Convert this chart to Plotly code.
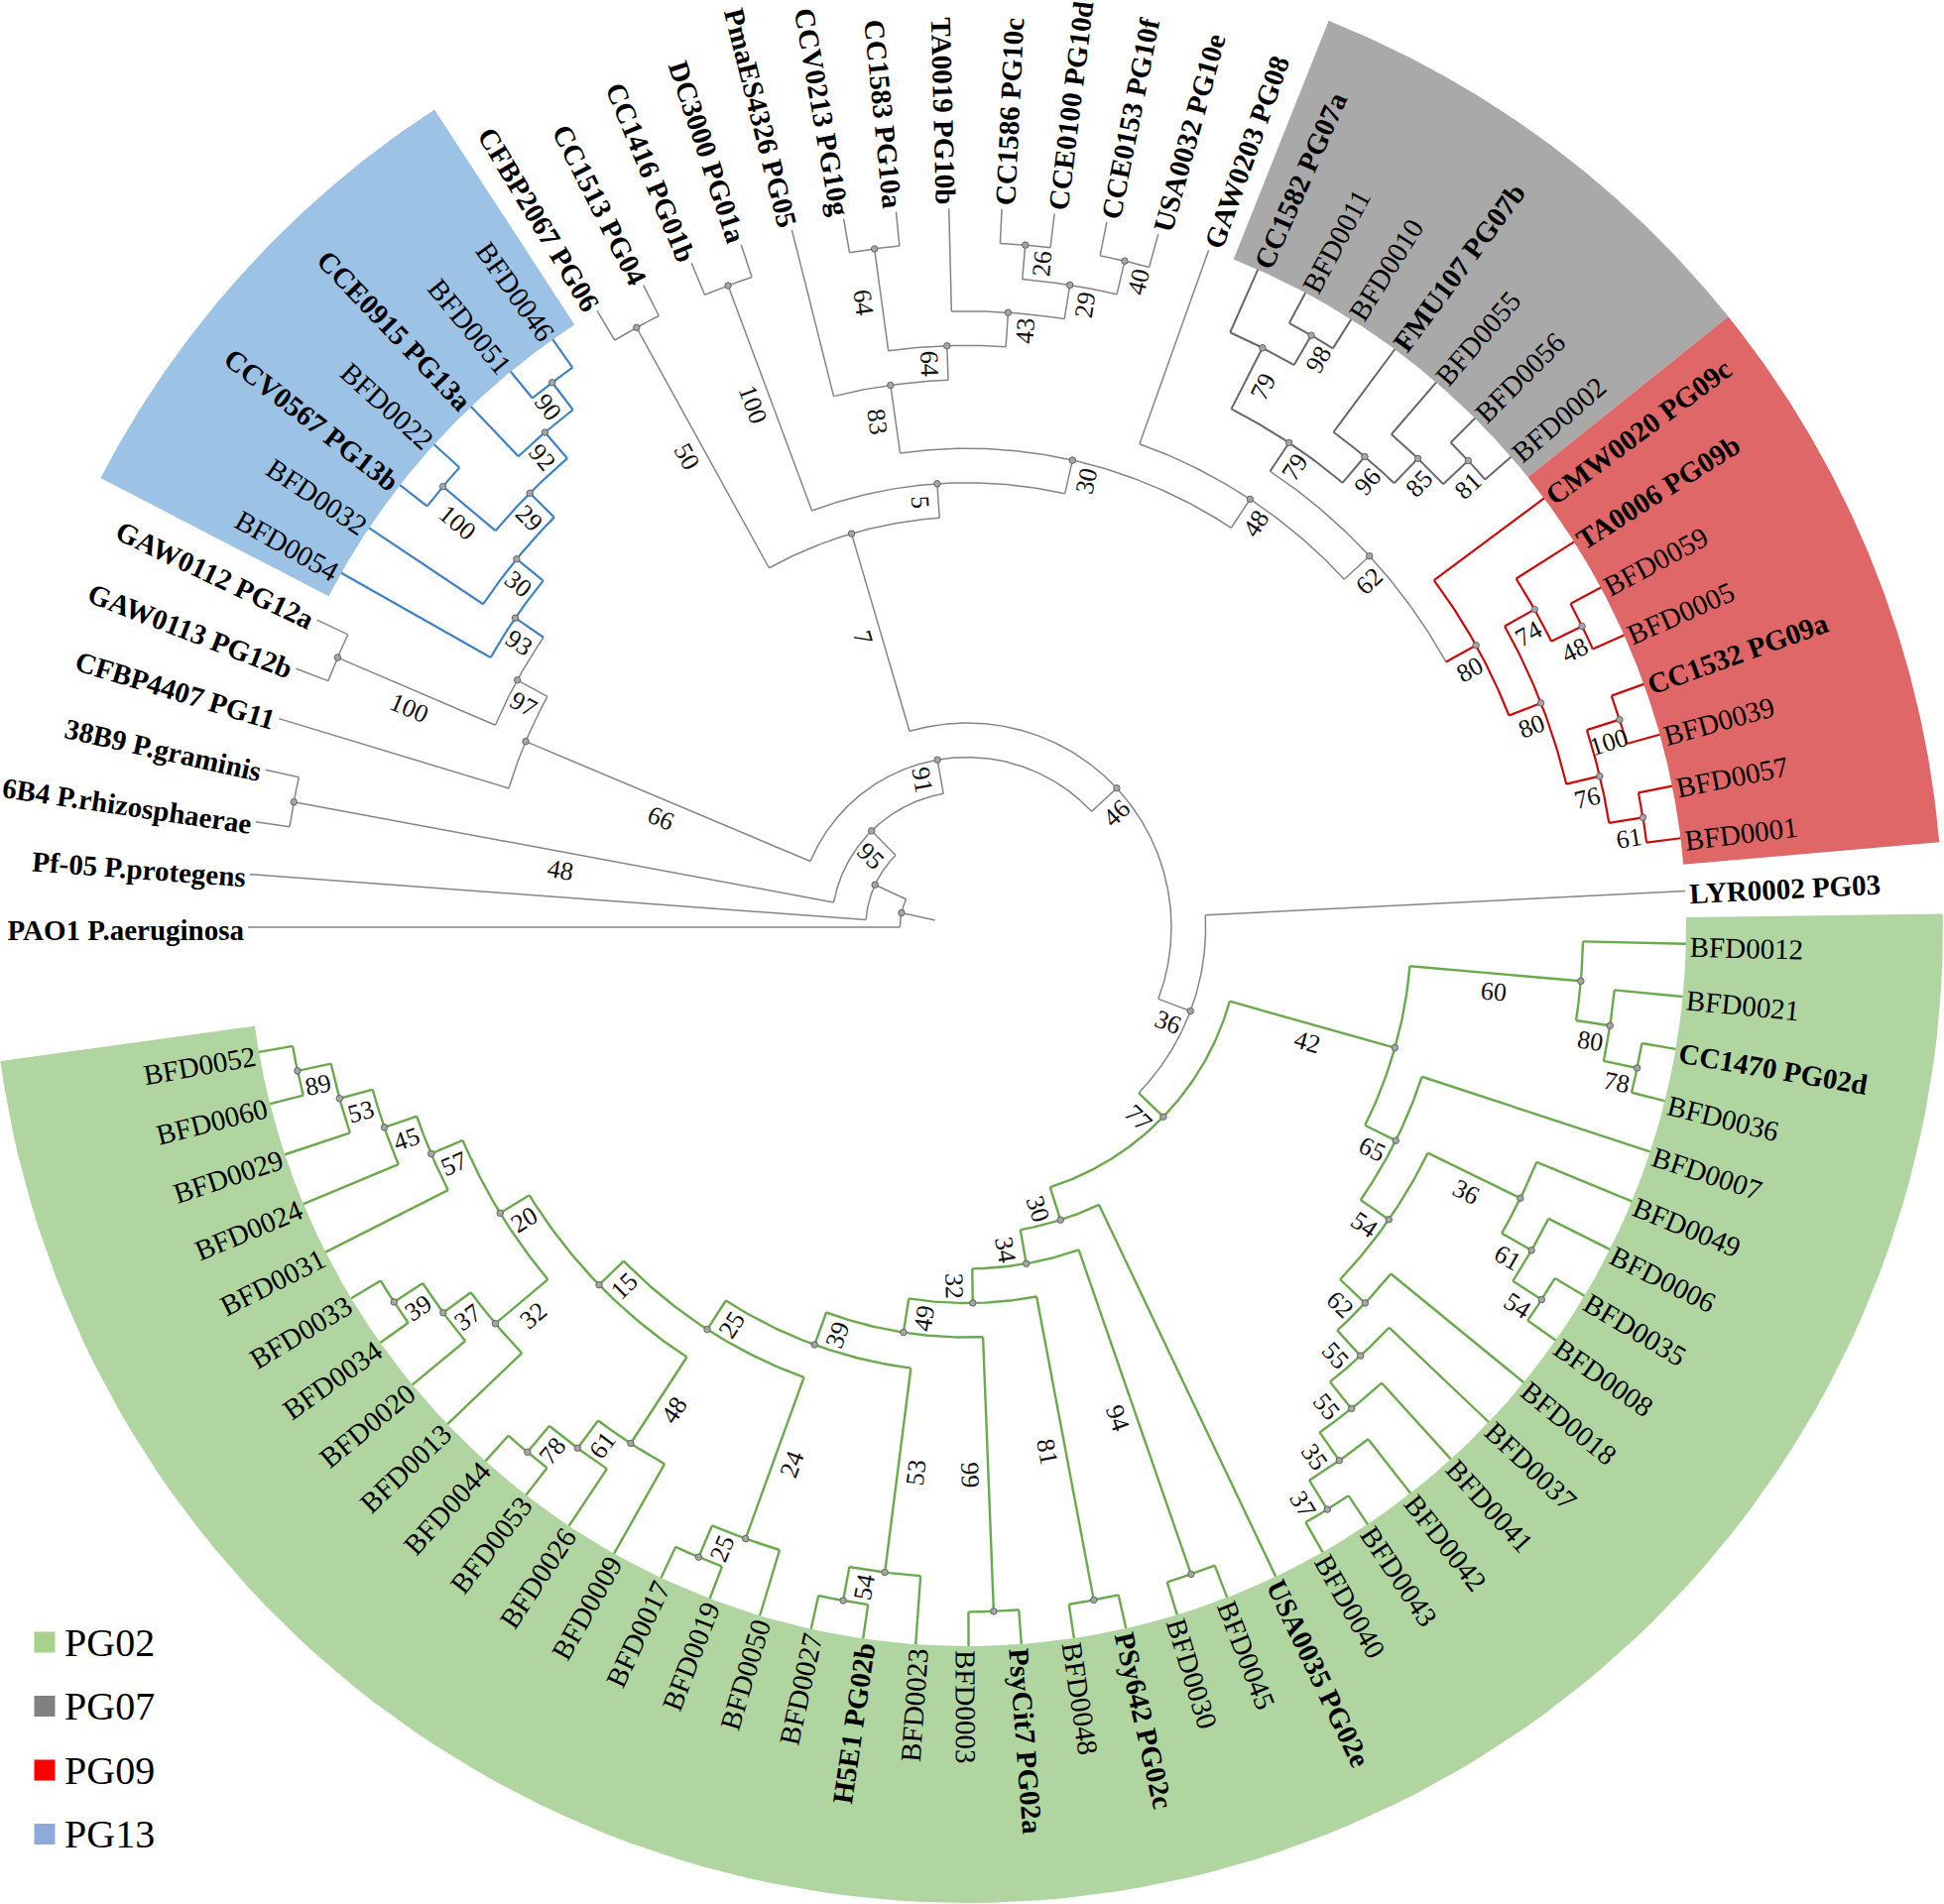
import math
import plotly.graph_objects as go

# ------------------------------------------------------------------ data
# Tree topology (clockwise leaf order) with bootstrap supports on internal nodes
PG13_CLADE = "(BFD0054,(BFD0032,((CCV0567 PG13b,BFD0022)100,(CCE0915 PG13a,(BFD0051,BFD0046)90)92)29)30)93"
PG07_CLADE = "((CC1582 PG07a,(BFD0011,BFD0010)98)79,(FMU107 PG07b,(BFD0055,(BFD0056,BFD0002)81)85)96)79"
PG09_CLADE = "(CMW0020 PG09c,((TA0006 PG09b,(BFD0059,BFD0005)48)74,((CC1532 PG09a,BFD0039)100,(BFD0057,BFD0001)61)76)80)80"
TOP_CLADE = ("((CFBP2067 PG06,CC1513 PG04)50,((CC1416 PG01b,DC3000 PG01a)100,((PmaES4326 PG05,"
             "((CCV0213 PG10g,CC1583 PG10a)64,(TA0019 PG10b,((CC1586 PG10c,CCE0100 PG10d)26,"
             "(CCE0153 PG10f,USA0032 PG10e)40)29)43)64)83,(GAW0203 PG08,(<PG07>,<PG09>)62)48)30)5)7")
PG02_A = ("((BFD0012,(BFD0021,(CC1470 PG02d,BFD0036)78)80)60,(BFD0007,((BFD0049,(BFD0006,"
          "(BFD0035,BFD0008)54)61)36,(BFD0018,(BFD0037,(BFD0041,(BFD0042,(BFD0043,BFD0040)37)35)55)55)62)54)65)42")
PG02_B = ("(USA0035 PG02e,((BFD0045,BFD0030)94,((PSy642 PG02c,BFD0048)81,((PsyCit7 PG02a,BFD0003)99,"
          "((BFD0023,(H5E1 PG02b,BFD0027)54)53,((BFD0050,(BFD0019,BFD0017)25)24,((BFD0009,(BFD0026,"
          "(BFD0053,BFD0044)78)61)48,((BFD0013,(BFD0020,(BFD0034,BFD0033)39)37)32,(BFD0031,(BFD0024,"
          "(BFD0029,(BFD0060,BFD0052)89)53)45)57)20)15)25)39)49)32)34)30")
BACKBONE = ("(PAO1 P.aeruginosa,(Pf-05 P.protegens,((6B4 P.rhizosphaerae,38B9 P.graminis)48,"
            "((CFBP4407 PG11,((GAW0113 PG12b,GAW0112 PG12a)100,<PG13>)97)66,"
            "(<TOP>,(LYR0002 PG03,(<PG02A>,<PG02B>)77)36)46)91)95))")

# highlighted clades: name, first leaf, last leaf
CLADE_NAMES = ["PG13", "PG07", "PG09", "PG02"]
CLADE_FIRST = ["BFD0054", "CC1582 PG07a", "CMW0020 PG09c", "BFD0012"]
CLADE_LAST = ["BFD0046", "BFD0002", "BFD0001", "BFD0052"]

LEGEND_LABELS = ["PG02", "PG07", "PG09", "PG13"]

# ------------------------------------------------------------------ styles / layout constants
W, H = 1960, 1920
CX, CY = 975, 935
R_TIP = 725.0
STEP = 34.6
R_OUT = 984.0
ARC = 350.0
START = 180.0

WEDGE_COL = {"PG13": "#9cc2e5", "PG07": "#a9a9a9", "PG09": "#e06767", "PG02": "#b1d5a0"}
LINE_STYLE = {None: ("#858585", 1.5), "PG13": ("#3f82c8", 2.2), "PG07": ("#686868", 2.0),
              "PG09": ("#cc0a0a", 2.2), "PG02": ("#6aaa4c", 2.4)}
LEGEND_COL = {"PG02": "#a9d18e", "PG07": "#808080", "PG09": "#ff0000", "PG13": "#8eaadb"}

# ------------------------------------------------------------------ build tree
newick = (BACKBONE.replace("<PG13>", PG13_CLADE).replace("<TOP>", TOP_CLADE)
          .replace("<PG02A>", PG02_A).replace("<PG02B>", PG02_B))
newick = newick.replace("<PG07>", PG07_CLADE).replace("<PG09>", PG09_CLADE)


def parse_newick(s):
    pos = 0

    def node():
        nonlocal pos
        if s[pos] == "(":
            pos += 1
            kids = [node()]
            while s[pos] == ",":
                pos += 1
                kids.append(node())
            assert s[pos] == ")"
            pos += 1
            st = pos
            while pos < len(s) and s[pos] not in ",)":
                pos += 1
            return {"kids": kids, "support": s[st:pos].strip()}
        st = pos
        while s[pos] not in ",)":
            pos += 1
        return {"kids": [], "name": s[st:pos].strip()}

    return node()


root = parse_newick(newick)
leaves = []
internals = []


def assign(n):
    if not n["kids"]:
        n["idx"] = len(leaves)
        n["lo"] = n["hi"] = n["idx"]
        n["level"] = 0
        leaves.append(n)
    else:
        for k in n["kids"]:
            assign(k)
        n["level"] = 1 + max(k["level"] for k in n["kids"])
        n["lo"] = n["kids"][0]["lo"]
        n["hi"] = n["kids"][-1]["hi"]
        internals.append(n)


assign(root)
NL = len(leaves)
DTH = ARC / (NL - 1)


def set_geom(n):
    for k in n["kids"]:
        set_geom(k)
    if n["kids"]:
        n["th"] = (n["kids"][0]["th"] + n["kids"][-1]["th"]) / 2.0
    else:
        n["th"] = START - n["idx"] * DTH
    n["r"] = R_TIP - STEP * n["level"]


set_geom(root)
leaf_by_name = {l["name"]: l for l in leaves}


def set_clade(n, c):
    n["clade"] = c
    for k in n["kids"]:
        set_clade(k, c)


set_clade(root, None)
clade_ranges = {}
for nm, a, b in zip(CLADE_NAMES, CLADE_FIRST, CLADE_LAST):
    lo, hi = leaf_by_name[a]["idx"], leaf_by_name[b]["idx"]
    clade_ranges[nm] = (lo, hi)
    for n in internals:
        if n["lo"] == lo and n["hi"] == hi:
            set_clade(n, nm)


def P(r, th):
    t = math.radians(th)
    return r * math.cos(t), r * math.sin(t)


# ------------------------------------------------------------------ figure
fig = go.Figure()

# background wedges
for nm in CLADE_NAMES:
    lo, hi = clade_ranges[nm]
    a0 = START - lo * DTH + DTH / 2
    a1 = START - hi * DTH - DTH / 2
    nseg = 120
    xs, ys = [], []
    for i in range(nseg + 1):
        x, y = P(R_TIP, a0 + (a1 - a0) * i / nseg)
        xs.append(x); ys.append(y)
    for i in range(nseg + 1):
        x, y = P(R_OUT, a1 + (a0 - a1) * i / nseg)
        xs.append(x); ys.append(y)
    xs.append(xs[0]); ys.append(ys[0])
    fig.add_trace(go.Scatter(x=xs, y=ys, mode="lines", fill="toself", fillcolor=WEDGE_COL[nm],
                             line=dict(width=0, color=WEDGE_COL[nm]), hoverinfo="skip", showlegend=False))

# branches
segs = {k: ([], []) for k in LINE_STYLE}


def add_arc(key, r, a, b):
    n = max(2, int(abs(b - a) / 0.4) + 1)
    xs, ys = segs[key]
    for i in range(n + 1):
        x, y = P(r, a + (b - a) * i / n)
        xs.append(x); ys.append(y)
    xs.append(None); ys.append(None)


def add_radial(key, r0, r1, th):
    xs, ys = segs[key]
    x0, y0 = P(r0, th)
    x1, y1 = P(r1, th)
    xs += [x0, x1, None]
    ys += [y0, y1, None]


for n in internals:
    add_arc(n["clade"], n["r"], n["kids"][0]["th"], n["kids"][-1]["th"])
    for k in n["kids"]:
        add_radial(k["clade"], n["r"], k["r"], k["th"])
add_radial(None, root["r"], R_TIP - STEP * (root["level"] + 1), root["th"])

for key, (xs, ys) in segs.items():
    if not xs:
        continue
    col, wid = LINE_STYLE[key]
    fig.add_trace(go.Scatter(x=xs, y=ys, mode="lines", line=dict(color=col, width=wid),
                             hoverinfo="skip", showlegend=False))

# node dots
dx, dy = [], []
for n in internals:
    x, y = P(n["r"], n["th"])
    dx.append(x); dy.append(y)
fig.add_trace(go.Scatter(x=dx, y=dy, mode="markers",
                         marker=dict(size=6.5, color="#a5a5a5", line=dict(color="#5a5a5a", width=0.9)),
                         hoverinfo="skip", showlegend=False))

shapes = []
# bootstrap labels along parent branches
parent = {}
for n in internals:
    for k in n["kids"]:
        parent[id(k)] = n
for n in internals:
    if not n.get("support") or id(n) not in parent:
        continue
    p = parent[id(n)]
    x0, y0 = P(p["r"], n["th"])
    x1, y1 = P(n["r"], n["th"])
    shapes.append(dict(type="line", xref="x", yref="y", x0=x0, y0=y0, x1=x1, y1=y1,
                       line=dict(color="rgba(0,0,0,0)", width=1), layer="above",
                       label=dict(text=n["support"], textposition="middle",
                                  yanchor="top", padding=1,
                                  font=dict(family="Liberation Serif", size=26, color="#111111"))))

# leaf labels
for l in leaves:
    x0, y0 = P(R_TIP + 4, l["th"])
    x1, y1 = P(R_TIP + 300, l["th"])
    bold = not l["name"].startswith("BFD")
    shapes.append(dict(type="line", xref="x", yref="y", x0=x0, y0=y0, x1=x1, y1=y1,
                       line=dict(color="rgba(0,0,0,0)", width=1), layer="above",
                       label=dict(text=l["name"], textposition="start",
                                  yanchor="middle", padding=0,
                                  font=dict(family="Liberation Serif", size=29, color="#000000",
                                            weight="bold" if bold else "normal"))))

# legend (manual)
LEG_X = 45 - CX
LEG_Y0 = CY - 1656
LEG_DY = 64.5
annotations = []
for i, nm in enumerate(LEGEND_LABELS):
    yy = LEG_Y0 - i * LEG_DY
    fig.add_trace(go.Scatter(x=[LEG_X], y=[yy], mode="markers",
                             marker=dict(symbol="square", size=21, color=LEGEND_COL[nm]),
                             hoverinfo="skip", showlegend=False))
    annotations.append(dict(x=LEG_X + 18, y=yy, xref="x", yref="y", text=nm, showarrow=False,
                            xanchor="left", yanchor="middle",
                            font=dict(family="Liberation Serif", size=40, color="#000000")))

fig.update_layout(
    width=W, height=H, margin=dict(l=0, r=0, t=0, b=0),
    paper_bgcolor="white", plot_bgcolor="white",
    xaxis=dict(range=[-CX, W - CX], visible=False, fixedrange=True),
    yaxis=dict(range=[-(H - CY), CY], visible=False, fixedrange=True),
    shapes=shapes, annotations=annotations, showlegend=False,
)

fig.write_html("out.html", config={"displayModeBar": False},
               post_script="document.body.style.margin='0px';")
